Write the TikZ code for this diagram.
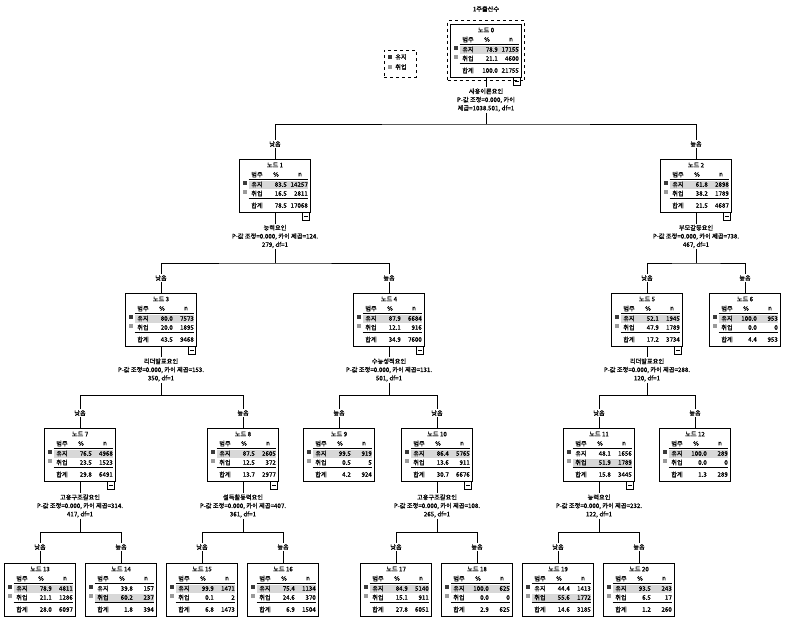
\documentclass[tikz,border=0pt]{standalone}
\usepackage{fontspec}
\setmainfont{Noto Sans CJK KR}[FakeBold=0.8,AutoFakeBold=0.8]
\definecolor{cdark}{HTML}{3A3A3A}
\definecolor{clight}{HTML}{9A9A9A}
\definecolor{rowshade}{HTML}{D8D8D8}
\tikzset{
 box/.style={draw, line width=0.7pt, fill=white, minimum width=71pt, minimum height=53pt, inner sep=0pt},
 txt/.style={font=\fontsize{6.2}{7}\selectfont\bfseries, inner sep=0pt},
 lbl/.style={font=\fontsize{6.2}{7}\selectfont\bfseries, fill=white, inner sep=1pt},
 split/.style={font=\fontsize{6.2}{8.4}\selectfont\bfseries, align=center, fill=white, inner sep=1pt},
 conn/.style={line width=0.7pt},
 sep/.style={line width=0.6pt},
}
\def\shd{1}
\def\tg{1}
\newcommand\tnode[9]{%
 \node[box] (n#1) at (#2,{#3+26.5}) {};
 \ifnum\shd=1
  \fill[rowshade] ({#2-26.5},{#3+21.5}) rectangle ({#2+32.5},{#3+29.5});
 \else
  \fill[rowshade] ({#2-26.5},{#3+30.5}) rectangle ({#2+32.5},{#3+38.5});
 \fi
 \node[txt] at (#2,{#3+6}) {노드 #1};
 \node[txt] at ({#2-18},{#3+15.5}) {범주};
 \node[txt] at ({#2+1},{#3+15.5}) {\%};
 \node[txt] at ({#2+25},{#3+15.5}) {n};
 \draw[sep] ({#2-26.5},{#3+20}) -- ({#2+32.5},{#3+20});
 \fill[cdark] ({#2-32},{#3+22}) rectangle ({#2-28},{#3+26});
 \node[txt] at ({#2-18},{#3+25.5}) {유지};
 \node[txt,anchor=east] at ({#2+12},{#3+25.5}) {#4};
 \node[txt,anchor=east] at ({#2+33},{#3+25.5}) {#5};
 \fill[clight] ({#2-32},{#3+31}) rectangle ({#2-28},{#3+35});
 \node[txt] at ({#2-18},{#3+34.5}) {취업};
 \node[txt,anchor=east] at ({#2+12},{#3+34.5}) {#6};
 \node[txt,anchor=east] at ({#2+33},{#3+34.5}) {#7};
 \draw[sep] ({#2-26.5},{#3+39.5}) -- ({#2+32.5},{#3+39.5});
 \node[txt] at ({#2-18},{#3+46.5}) {합계};
 \node[txt,anchor=east] at ({#2+12},{#3+46.5}) {#8};
 \node[txt,anchor=east] at ({#2+33},{#3+46.5}) {#9};
 \ifnum\tg=1
  \draw[line width=0.6pt,fill=white] ({#2+27.5},{#3+53}) rectangle ({#2+34.5},{#3+61});
  \draw[line width=0.6pt] ({#2+29},{#3+57}) -- ({#2+33},{#3+57});
 \fi
}
\begin{document}
\begin{tikzpicture}[x=1pt,y=-1pt]
\useasboundingbox[fill=white] (0,0) rectangle (786,622);
\node[txt] (title) at (486,9) {1주출산수};
% legend
\node[draw,dashed,line width=0.7pt,minimum width=32pt,minimum height=27pt,inner sep=0pt] (legend) at (400,63.5) {};
\fill[cdark] (387.5,55) rectangle (391.5,59);
\node[txt] (legA) at (401,57) {유지};
\fill[clight] (387.5,65) rectangle (391.5,69);
\node[txt] (legB) at (401,67) {취업};
% nodes
\def\shd{1}\def\tg{1}
\tnode{0}{486}{24}{78.9}{17155}{21.1}{4600}{100.0}{21755}
\node[draw,dashed,line width=0.7pt,minimum width=77pt,minimum height=60pt,inner sep=0pt] (sel) at (486,50.5) {};
\tnode{1}{275}{159}{83.5}{14257}{16.5}{2811}{78.5}{17068}
\tnode{2}{696}{159}{61.8}{2898}{38.2}{1789}{21.5}{4687}
\tnode{3}{161}{293}{80.0}{7573}{20.0}{1895}{43.5}{9468}
\tnode{4}{389}{293}{87.9}{6684}{12.1}{916}{34.9}{7600}
\tnode{5}{647}{293}{52.1}{1945}{47.9}{1789}{17.2}{3734}
\def\tg{0}
\tnode{6}{745}{293}{100.0}{953}{0.0}{0}{4.4}{953}
\def\tg{1}
\tnode{7}{80}{428}{76.5}{4968}{23.5}{1523}{29.8}{6491}
\tnode{8}{243}{428}{87.5}{2605}{12.5}{372}{13.7}{2977}
\def\tg{0}
\tnode{9}{339}{428}{99.5}{919}{0.5}{5}{4.2}{924}
\def\tg{1}
\tnode{10}{437}{428}{86.4}{5765}{13.6}{911}{30.7}{6676}
\def\shd{2}
\tnode{11}{599}{428}{48.1}{1656}{51.9}{1789}{15.8}{3445}
\def\shd{1}\def\tg{0}
\tnode{12}{695}{428}{100.0}{289}{0.0}{0}{1.3}{289}
\tnode{13}{40}{563}{78.9}{4811}{21.1}{1286}{28.0}{6097}
\def\shd{2}
\tnode{14}{121}{563}{39.8}{157}{60.2}{237}{1.8}{394}
\def\shd{1}
\tnode{15}{202}{563}{99.9}{1471}{0.1}{2}{6.8}{1473}
\tnode{16}{283}{563}{75.4}{1134}{24.6}{370}{6.9}{1504}
\tnode{17}{396}{563}{84.9}{5140}{15.1}{911}{27.8}{6051}
\tnode{18}{477}{563}{100.0}{625}{0.0}{0}{2.9}{625}
\def\shd{2}
\tnode{19}{558}{563}{44.4}{1413}{55.6}{1772}{14.6}{3185}
\def\shd{1}
\tnode{20}{639}{563}{93.5}{243}{6.5}{17}{1.2}{260}
% split texts
\node[split] (s0) at (486,100) {사용이론요인\\P-값 조정=0.000, 카이\\제곱=1038.501, df=1};
\node[split] (s1) at (275,236.5) {능력요인\\P-값 조정=0.000, 카이 제곱=124.\\279, df=1};
\node[split] (s2) at (696,236.5) {부모갈등요인\\P-값 조정=0.000, 카이 제곱=738.\\467, df=1};
\node[split] (s3) at (161,370) {리더발표요인\\P-값 조정=0.000, 카이 제곱=153.\\350, df=1};
\node[split] (s4) at (389,370) {수능성적요인\\P-값 조정=0.000, 카이 제곱=131.\\501, df=1};
\node[split] (s5) at (647,370) {리더발표요인\\P-값 조정=0.000, 카이 제곱=288.\\120, df=1};
\node[split] (s7) at (80,506) {고용구조갈요인\\P-값 조정=0.000, 카이 제곱=314.\\417, df=1};
\node[split] (s8) at (243,506) {설득활동력요인\\P-값 조정=0.000, 카이 제곱=407.\\361, df=1};
\node[split] (s10) at (437,506) {고용구조갈요인\\P-값 조정=0.000, 카이 제곱=108.\\265, df=1};
\node[split] (s11) at (599,506) {능력요인\\P-값 조정=0.000, 카이 제곱=232.\\122, df=1};
% bars
\coordinate (b0) at (486,124);
\coordinate (b1) at (275,263);
\coordinate (b2) at (696,263);
\coordinate (b3) at (161,395);
\coordinate (b4) at (389,395);
\coordinate (b5) at (647,395);
\coordinate (b7) at (80,532);
\coordinate (b8) at (243,532);
\coordinate (b10) at (437,532);
\coordinate (b11) at (599,532);
\begin{scope}[conn]
\draw (n0.south) -- (s0.north); \draw (s0.south) -- (b0); \draw (n1.north) |- (b0) -| (n2.north);
\draw (n1.south) -- (s1.north); \draw (s1.south) -- (b1); \draw (n3.north) |- (b1) -| (n4.north);
\draw (n2.south) -- (s2.north); \draw (s2.south) -- (b2); \draw (n5.north) |- (b2) -| (n6.north);
\draw (n3.south) -- (s3.north); \draw (s3.south) -- (b3); \draw (n7.north) |- (b3) -| (n8.north);
\draw (n4.south) -- (s4.north); \draw (s4.south) -- (b4); \draw (n9.north) |- (b4) -| (n10.north);
\draw (n5.south) -- (s5.north); \draw (s5.south) -- (b5); \draw (n11.north) |- (b5) -| (n12.north);
\draw (n7.south) -- (s7.north); \draw (s7.south) -- (b7); \draw (n13.north) |- (b7) -| (n14.north);
\draw (n8.south) -- (s8.north); \draw (s8.south) -- (b8); \draw (n15.north) |- (b8) -| (n16.north);
\draw (n10.south) -- (s10.north); \draw (s10.south) -- (b10); \draw (n17.north) |- (b10) -| (n18.north);
\draw (n11.south) -- (s11.north); \draw (s11.south) -- (b11); \draw (n19.north) |- (b11) -| (n20.north);
\end{scope}
% branch labels
\node[lbl] (l1) at (275,144) {낮음};
\node[lbl] (l2) at (696,144) {높음};
\node[lbl] (l3) at (161,278) {낮음};
\node[lbl] (l4) at (389,278) {높음};
\node[lbl] (l5) at (647,278) {낮음};
\node[lbl] (l6) at (745,278) {높음};
\node[lbl] (l7) at (80,413) {낮음};
\node[lbl] (l8) at (243,413) {높음};
\node[lbl] (l9) at (339,413) {높음};
\node[lbl] (l10) at (437,413) {낮음};
\node[lbl] (l11) at (599,413) {낮음};
\node[lbl] (l12) at (695,413) {높음};
\node[lbl] (l13) at (40,547) {낮음};
\node[lbl] (l14) at (121,547) {높음};
\node[lbl] (l15) at (202,547) {낮음};
\node[lbl] (l16) at (283,547) {높음};
\node[lbl] (l17) at (396,547) {낮음};
\node[lbl] (l18) at (477,547) {높음};
\node[lbl] (l19) at (558,547) {낮음};
\node[lbl] (l20) at (639,547) {높음};
\end{tikzpicture}
\end{document}
